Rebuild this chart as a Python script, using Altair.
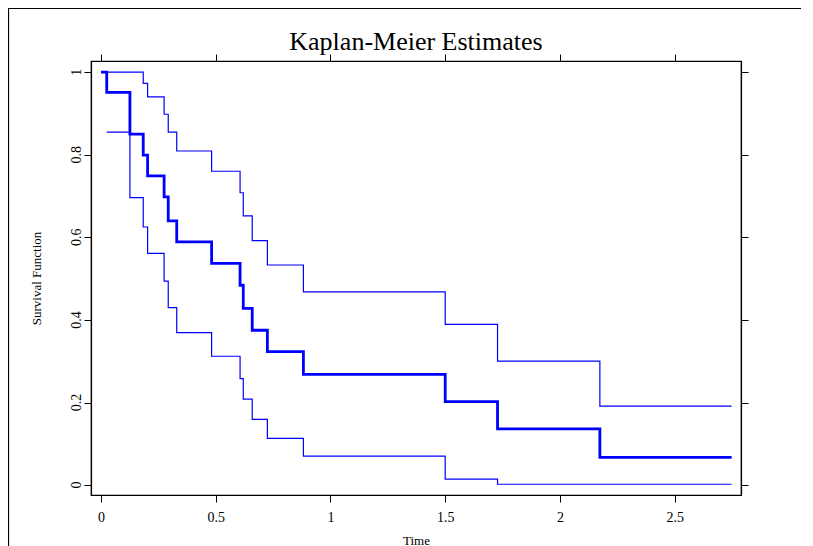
import altair as alt
import pandas as pd

# Step times and estimates
times = [0, 0.025, 0.126, 0.184, 0.203, 0.275, 0.293, 0.330, 0.482, 0.606,
         0.620, 0.659, 0.725, 0.882, 1.5, 1.728, 2.174, 2.748]
surv = [1, 0.951, 0.850, 0.799, 0.749, 0.698, 0.640, 0.589, 0.537, 0.484,
        0.428, 0.375, 0.323, 0.268, 0.202, 0.136, 0.067, 0.067]
upper = [1, 1, 1, 0.973, 0.940, 0.898, 0.855, 0.809, 0.760, 0.708,
         0.652, 0.592, 0.533, 0.468, 0.389, 0.300, 0.191, 0.191]
lower = [None, 0.855, 0.696, 0.625, 0.561, 0.494, 0.430, 0.369, 0.312, 0.258,
         0.208, 0.159, 0.113, 0.070, 0.0145, 0.002, 0.002, 0.002]

x_ticks = [0, 0.5, 1, 1.5, 2, 2.5]
y_ticks = [0, 0.2, 0.4, 0.6, 0.8, 1]

df_s = pd.DataFrame({"time": times, "value": surv})
df_u = pd.DataFrame({"time": times, "value": upper})
df_l = pd.DataFrame({"time": times, "value": lower}).dropna()
df_yt = pd.DataFrame({"tick": y_ticks})

FONT = "Liberation Serif"
BLUE = "#0000ff"

xscale = alt.Scale(domain=[-0.0436, 2.789], nice=False, zero=False)
yscale = alt.Scale(domain=[-0.024, 1.027], nice=False, zero=False)

x_main = alt.X("time:Q", scale=xscale,
               axis=alt.Axis(values=x_ticks, format="~g", title="Time",
                             orient="bottom", titlePadding=10))
y_main = alt.Y("value:Q", scale=yscale,
               axis=alt.Axis(values=y_ticks, labels=False, title="Survival Function",
                             orient="left", titlePadding=40))

x_top = alt.X("time:Q", scale=xscale,
              axis=alt.Axis(values=x_ticks, labels=False, title=None, orient="top"))
y_right = alt.Y("value:Q", scale=yscale,
                axis=alt.Axis(values=y_ticks, labels=False, title=None, orient="right"))

upper_line = alt.Chart(df_u).mark_line(interpolate="step-after", color=BLUE,
                                       strokeWidth=1.2).encode(x=x_top, y=y_right)
lower_line = alt.Chart(df_l).mark_line(interpolate="step-after", color=BLUE,
                                       strokeWidth=1.2).encode(
    x=alt.X("time:Q", scale=xscale, axis=None),
    y=alt.Y("value:Q", scale=yscale, axis=None))
main_line = alt.Chart(df_s).mark_line(interpolate="step-after", color=BLUE,
                                      strokeWidth=2.8).encode(x=x_main, y=y_main)

# rotated y tick labels (lattice style): text reads bottom-to-top
y_labels = alt.Chart(df_yt).mark_text(
    align="center", baseline="alphabetic", font=FONT, fontSize=14,
    color="black", clip=False
).encode(
    y=alt.Y("tick:Q", scale=yscale, axis=None),
    x=alt.value(-10),
    angle=alt.value(270),
    text=alt.Text("tick:Q", format="~g"),
)

border = alt.Chart(alt.Data(values=[{}])).mark_rect(
    fill=None, stroke="black", strokeWidth=1.2, clip=False
).encode(x=alt.value(-82.5), x2=alt.value(717), y=alt.value(-52.5), y2=alt.value(700))

chart = alt.layer(border, upper_line, lower_line, main_line, y_labels).resolve_axis(
    x="independent", y="independent"
).properties(
    width=650, height=434,
    title=alt.Title("Kaplan-Meier Estimates", fontSize=26, font=FONT,
                    fontWeight="normal", color="black", offset=0,
                    baseline="alphabetic", dy=68),
    autosize=alt.AutoSizeParams(type="none"),
    padding={"left": 83, "top": 53, "right": 60, "bottom": 56},
).configure_view(
    stroke="black", strokeWidth=1.2
).configure_axis(
    grid=False, domain=True, domainColor="black", domainWidth=1.2,
    tickColor="black", tickSize=7, tickWidth=1,
    labelFont=FONT, labelFontSize=14, labelColor="black", labelPadding=8,
    titleFont=FONT, titleFontSize=13, titleFontWeight="normal", titleColor="black",
)

chart.save("out.html", embed_options={"renderer": "svg", "actions": False})
